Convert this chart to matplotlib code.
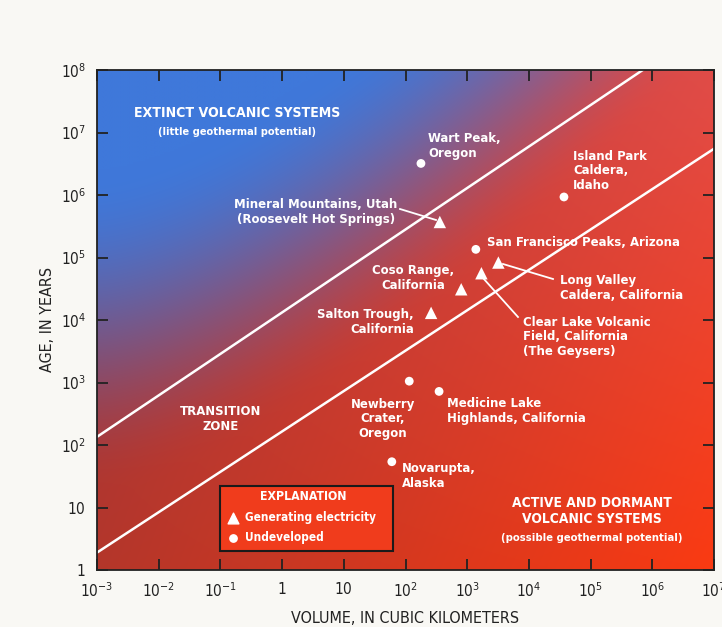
import numpy as np
import matplotlib
matplotlib.use("Agg")
import matplotlib.pyplot as plt
from matplotlib import font_manager
from matplotlib.colors import to_rgb

# pick a condensed sans if one is around
fonts = font_manager.fontManager.ttflist
names = {f.name for f in fonts}
scale = 1.0
if 'Liberation Sans Narrow' in names:
    plt.rcParams['font.family'] = ['Liberation Sans Narrow', 'DejaVu Sans']
elif any(f.name == 'DejaVu Sans' and f.stretch == 'condensed' for f in fonts):
    plt.rcParams['font.family'] = ['DejaVu Sans']
    plt.rcParams['font.stretch'] = 'condensed'
    scale = 0.92
else:
    plt.rcParams['font.family'] = ['Liberation Sans', 'DejaVu Sans']
    scale = 0.86

# data
gen_names = ["Mineral Mountains", "Long Valley", "Clear Lake", "Coso Range", "Salton Trough"]
gen_volume = [360, 3200, 1700, 800, 260]
gen_age = [3.7e5, 8.3e4, 5.6e4, 3.1e4, 1.3e4]

und_names = ["Wart Peak", "Island Park", "San Francisco Peaks", "Newberry", "Medicine Lake", "Novarupta"]
und_volume = [178, 3.7e4, 1380, 115, 350, 60]
und_age = [3.2e6, 9.3e5, 1.35e5, 1050, 720, 54]

upper_x = [1e-3, 7e5]
upper_y = [135, 1e8]
lower_x = [1e-3, 1e7]
lower_y = [1.9, 5.5e6]

xticks = [1e-3, 1e-2, 1e-1, 1, 10, 1e2, 1e3, 1e4, 1e5, 1e6, 1e7]
xlabels = ["10^{-3}", "10^{-2}", "10^{-1}", "1", "10", "10^{2}", "10^{3}", "10^{4}", "10^{5}", "10^{6}", "10^{7}"]
yticks = [1, 10, 1e2, 1e3, 1e4, 1e5, 1e6, 1e7, 1e8]
ylabels = ["1", "10", "10^{2}", "10^{3}", "10^{4}", "10^{5}", "10^{6}", "10^{7}", "10^{8}"]

W, H = 722, 627
AX_L, AX_R, AX_T, AX_B = 97, 714, 70, 570

fig = plt.figure(figsize=(W / 100, H / 100), dpi=100)
fig.patch.set_facecolor('#f9f8f4')
ax = fig.add_axes([AX_L / W, 1 - AX_B / H, (AX_R - AX_L) / W, (AX_B - AX_T) / H])


def px(x, y):
    # pixel position in the reference -> axes fraction
    return (x - AX_L) / (AX_R - AX_L), (AX_B - y) / (AX_B - AX_T)


# background gradient: blue top-left to red bottom-right
n = 300
u, v = np.meshgrid(np.linspace(0, 1, n), np.linspace(1, 0, n))
s = v - 0.9 * u ** 1.5
w = np.clip((s - 0.15) / (0.8 - 0.15), 0, 1)
w = w * w * (3 - 2 * w)
c_bl = np.array(to_rgb('#b4362a'))
c_br = np.array(to_rgb('#fa3a12'))
c_tl = np.array(to_rgb('#a03a4a'))
c_tr = np.array(to_rgb('#e04c48'))
uu, vv = u[..., None], v[..., None]
red = (c_bl * (1 - uu) * (1 - vv) + c_br * uu * (1 - vv)
       + c_tl * (1 - uu) * vv + c_tr * uu * vv)
blue = np.array(to_rgb('#3f78da'))
img = red * (1 - w[..., None]) + blue * w[..., None]
ax.imshow(img, extent=[0, 1, 0, 1], transform=ax.transAxes, aspect='auto', zorder=0,
          interpolation='bilinear')

ax.set_xscale('log')
ax.set_yscale('log')

ax.plot(upper_x, upper_y, color='white', lw=1.8, zorder=2)
ax.plot(lower_x, lower_y, color='white', lw=1.8, zorder=2)

ax.scatter(gen_volume, gen_age, marker='^', s=80, color='white', edgecolors='none', zorder=4)
ax.scatter(und_volume, und_age, marker='o', s=40, color='white', edgecolors='none', zorder=4)

ax.set_xlim(1e-3, 1e7)
ax.set_ylim(1, 1e8)
ax.set_xticks(xticks)
ax.set_xticklabels(["$\\mathregular{%s}$" % t for t in xlabels])
ax.set_yticks(yticks)
ax.set_yticklabels(["$\\mathregular{%s}$" % t for t in ylabels])
ax.minorticks_off()
ax.tick_params(which='major', direction='in', length=8, width=1.3, colors='#222222',
               labelsize=12 * scale, top=True, right=True, pad=8)
for sp in ax.spines.values():
    sp.set_color('#222222')
    sp.set_linewidth(1.3)

ax.set_xlabel("VOLUME, IN CUBIC KILOMETERS", fontsize=12.5 * scale, color='#222222', labelpad=8)
ax.set_ylabel("AGE, IN YEARS", fontsize=12.5 * scale, color='#222222', labelpad=4)

tkw = dict(transform=ax.transAxes, color='white', fontweight='bold', zorder=5)


def label(x, y, s, size=10.2, ha='left', **kw):
    ax.text(*px(x, y), s, ha=ha, va='center', fontsize=size * scale, linespacing=1.15, **tkw, **kw)


label(237, 113, "EXTINCT VOLCANIC SYSTEMS", size=11, ha='center')
label(237, 132, "(little geothermal potential)", size=8.6, ha='center')
label(221, 419, "TRANSITION\nZONE", size=10.2, ha='center')
label(592, 511, "ACTIVE AND DORMANT\nVOLCANIC SYSTEMS", size=10.8, ha='center')
label(592, 538, "(possible geothermal potential)", size=8.8, ha='center')

label(428, 146, "Wart Peak,\nOregon")
label(573, 171, "Island Park\nCaldera,\nIdaho")
label(316, 212, "Mineral Mountains, Utah\n(Roosevelt Hot Springs)", ha='center')
label(487, 242, "San Francisco Peaks, Arizona")
label(413, 278, "Coso Range,\nCalifornia", ha='center')
label(560, 288, "Long Valley\nCaldera, California")
label(414, 322, "Salton Trough,\nCalifornia", ha='right')
label(523, 337, "Clear Lake Volcanic\nField, California\n(The Geysers)")
label(383, 419, "Newberry\nCrater,\nOregon", ha='center')
label(447, 411, "Medicine Lake\nHighlands, California")
label(402, 476, "Novarupta,\nAlaska")

# leader lines
lkw = dict(transform=ax.transAxes, color='white', lw=1.3, zorder=3)
for (x0, y0), (x1, y1) in [((400, 209), (436, 220)),
                           ((503, 264), (553, 279)),
                           ((483, 278), (518, 317))]:
    a, b = px(x0, y0)
    c, d = px(x1, y1)
    ax.plot([a, c], [b, d], **lkw)

# explanation box
bx0, by0 = px(220, 551)
bx1, by1 = px(393, 486)
ax.add_patch(plt.Rectangle((bx0, by0), bx1 - bx0, by1 - by0, transform=ax.transAxes,
                           facecolor='#f03c1c', edgecolor='#1a1a1a', lw=1.5, zorder=4))
label(303, 497, "EXPLANATION", size=9.6, ha='center')
label(245, 518, "Generating electricity", size=9.2)
label(245, 538, "Undeveloped", size=9.2)
ax.scatter(*px(233, 518), marker='^', s=60, color='white', transform=ax.transAxes, zorder=6)
ax.scatter(*px(233, 538), marker='o', s=28, color='white', transform=ax.transAxes, zorder=6)

fig.savefig("out.png", dpi=100, facecolor=fig.get_facecolor())
